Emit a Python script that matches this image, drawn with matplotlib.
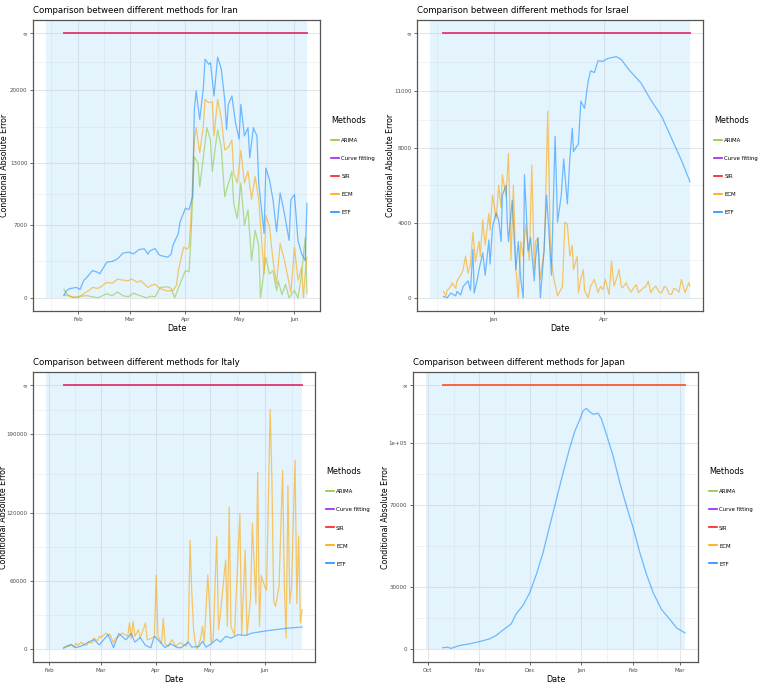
import matplotlib
matplotlib.use("Agg")
import matplotlib.pyplot as plt
import matplotlib.dates as mdates
import numpy as np
from matplotlib.lines import Line2D

plt.rcParams['font.family'] = ['Liberation Sans Narrow', 'DejaVu Sans', 'Liberation Sans']
plt.rcParams['font.stretch'] = 'condensed'

methods = ["ARIMA", "Curve fitting", "SIR", "ECM", "ETF"]
method_colors = ["#8DC63F", "#A020F0", "#FF1A1A", "#FFA500", "#1E90FF"]

# ---- Iran ----
iran_start = "2020-01-24"
iran_shade_start = "2020-01-14"
iran_inf = 25500
iran_at_inf = ["Curve fitting", "SIR"]
iran_yticks = [0, 7000, 13000, 20000]
iran_etf = [(0, 200), (1, 600), (3, 870), (7, 1000), (9, 800), (11, 1650), (13, 2000), (16, 2620),
            (19, 2450), (20, 2300), (24, 3430), (27, 3500), (30, 3750), (33, 4300), (36, 4400),
            (39, 4240), (42, 4650), (45, 4720), (47, 4200), (48, 4500), (51, 4750), (53, 4200),
            (54, 4080), (58, 3910), (60, 4200), (61, 5050), (64, 6200), (65, 7310), (68, 8640),
            (70, 8500), (72, 9740), (73, 18150), (74, 19930), (76, 17180), (78, 20200), (79, 23000),
            (81, 22500), (82, 22670), (84, 19450), (86, 23200), (88, 22100), (90, 19100), (91, 16200),
            (92, 18640), (94, 19450), (96, 16900), (98, 15300), (99, 18640), (101, 15600), (103, 16400),
            (104, 13500), (106, 16400), (108, 15600), (109, 11070), (112, 6210), (113, 12500),
            (115, 11400), (117, 9450), (119, 6360), (121, 10100), (123, 8480), (126, 5530), (127, 9450),
            (129, 9950), (131, 5500), (133, 4270), (135, 3590), (136, 9120)]
iran_ecm = [(0, 300), (2, 200), (5, 100), (8, 0), (11, 390), (14, 700), (16, 1000), (19, 900),
            (21, 1100), (24, 1490), (27, 1400), (30, 1800), (33, 1700), (36, 1650), (38, 1800),
            (41, 1500), (43, 1650), (47, 1000), (49, 1200), (51, 1300), (53, 1000), (55, 800),
            (58, 650), (61, 700), (63, 1200), (64, 2620), (67, 4880), (69, 4700), (70, 4900),
            (71, 7300), (73, 15240), (74, 16400), (76, 13980), (78, 16500), (79, 19130), (81, 18800),
            (83, 18900), (84, 15600), (86, 19130), (88, 17340), (90, 14250), (92, 14500), (94, 15200),
            (95, 12000), (97, 11070), (99, 14200), (101, 11070), (103, 12200), (105, 9500),
            (107, 11700), (109, 9450), (112, 2300), (113, 7960), (115, 6900), (117, 3590),
            (119, 1360), (121, 5240), (123, 3900), (125, 2300), (127, 490), (129, 4880), (131, 1700),
            (133, 2900), (134, 0), (135, 2300), (136, 3900)]
iran_arima = [(0, 800), (2, 300), (5, 0), (9, 150), (13, 200), (16, 100), (19, 0), (24, 390),
              (27, 200), (30, 550), (33, 200), (36, 100), (39, 450), (41, 300), (46, 0), (49, 150),
              (51, 100), (54, 1000), (58, 1060), (60, 900), (62, 0), (65, 1360), (68, 2620),
              (70, 2500), (71, 5530), (73, 13600), (75, 13000), (76, 10700), (78, 13500),
              (80, 16400), (82, 15200), (83, 12170), (86, 16200), (88, 14560), (90, 9740),
              (92, 11000), (94, 12170), (95, 9120), (97, 7630), (99, 11070), (101, 7000), (103, 8480),
              (105, 3590), (107, 6500), (109, 5000), (110, 0), (113, 3900), (115, 2300), (117, 2600),
              (119, 700), (120, 1600), (122, 300), (124, 1300), (126, 0), (129, 700), (131, 0),
              (133, 2300), (135, 5800), (136, 400)]

# ---- Israel ----
israel_start = "2020-11-21"
israel_shade_start = "2020-11-10"
israel_inf = 14100
israel_at_inf = ["Curve fitting", "SIR"]
israel_yticks = [0, 4000, 8000, 11000]
israel_etf = [(0, 70), (3, 0), (6, 250), (10, 100), (11, 340), (14, 150), (16, 600), (20, 900),
              (22, 400), (24, 2580), (25, 250), (27, 800), (29, 1500), (32, 2400), (34, 1200),
              (37, 3080), (38, 1800), (40, 3800), (43, 4520), (45, 4160), (47, 3000), (48, 5470),
              (51, 6000), (52, 4000), (53, 3000), (55, 4500), (56, 5200), (59, 1500), (61, 3000),
              (63, 1000), (65, 0), (66, 6560), (69, 2500), (71, 3200), (74, 900), (75, 2000),
              (77, 3200), (79, 0), (82, 2500), (84, 5470), (86, 3500), (88, 1200), (91, 8600),
              (93, 4030), (96, 5450), (98, 7400), (100, 5800), (101, 5000), (103, 7400), (105, 9030),
              (106, 7800), (110, 8200), (112, 10480), (115, 10100), (118, 11560), (120, 12100),
              (123, 12000), (126, 12630), (130, 12600), (134, 12760), (141, 12850), (145, 12700),
              (151, 12170), (161, 11450), (169, 10550), (178, 9660), (186, 8490), (194, 7330),
              (201, 6180)]
israel_ecm = [(0, 340), (2, 100), (3, 400), (6, 600), (7, 800), (10, 500), (11, 900), (14, 1200),
              (16, 1500), (18, 2220), (20, 1300), (22, 1800), (24, 3500), (26, 1900), (29, 3000),
              (30, 2200), (32, 4150), (34, 2800), (37, 4500), (38, 3600), (40, 5470), (43, 4200),
              (45, 6000), (47, 4800), (48, 6560), (51, 5400), (53, 7700), (55, 2000), (57, 6000),
              (59, 1600), (61, 0), (63, 3000), (65, 2200), (67, 3900), (70, 2000), (72, 7080),
              (74, 1500), (75, 3000), (77, 3200), (79, 1000), (82, 2500), (83, 4500), (85, 9950),
              (87, 3200), (88, 2000), (90, 1000), (93, 100), (97, 600), (99, 4030), (101, 3900),
              (103, 2220), (105, 2800), (106, 1500), (109, 2200), (110, 270), (112, 1000),
              (114, 1500), (115, 400), (118, 0), (120, 620), (123, 980), (126, 270), (128, 600),
              (130, 440), (132, 980), (135, 180), (137, 1950), (139, 620), (142, 1200), (143, 1510),
              (145, 600), (146, 530), (149, 800), (150, 620), (153, 300), (155, 530), (157, 700),
              (159, 270), (161, 400), (163, 530), (165, 600), (167, 890), (169, 270), (171, 500),
              (173, 620), (176, 300), (178, 270), (180, 600), (182, 530), (184, 200), (186, 180),
              (188, 500), (190, 440), (192, 300), (194, 980), (197, 270), (200, 800), (201, 620)]

# ---- Italy ----
italy_start = "2020-02-09"
italy_shade_start = "2020-01-30"
italy_inf = 233500
italy_at_inf = ["Curve fitting", "SIR"]
italy_yticks = [0, 60000, 120000, 190000]
italy_ecm = [(0, 1000), (2, 3000), (3, 2000), (4, 4000), (6, 1500), (7, 5000), (8, 3000), (10, 6000),
             (11, 4000), (13, 3000), (14, 6000), (16, 5000), (17, 9600), (19, 7000), (20, 11000),
             (21, 10000), (24, 14000), (25, 12000), (26, 13000), (28, 5300), (29, 9000), (31, 11100),
             (33, 14000), (35, 12000), (36, 11100), (37, 22900), (38, 9000), (39, 24400), (40, 11100),
             (42, 17000), (43, 9600), (44, 14000), (46, 22900), (47, 8000), (49, 9000), (51, 11100),
             (52, 65000), (53, 11100), (55, 5000), (56, 27000), (57, 4000), (59, 2300), (60, 6000),
             (61, 8000), (63, 2300), (65, 5000), (66, 5300), (68, 3000), (69, 2300), (70, 8000),
             (71, 96300), (72, 50000), (73, 17000), (74, 5000), (75, 0), (77, 9000), (78, 20000),
             (79, 6000), (81, 65500), (83, 5300), (84, 8000), (86, 99200), (87, 17000), (88, 30000),
             (89, 46400), (91, 78700), (92, 20000), (93, 125600), (94, 20000), (96, 12000),
             (97, 50000), (99, 119800), (100, 12000), (102, 87500), (103, 12000), (105, 45000),
             (106, 111000), (107, 75800), (108, 40000), (109, 156500), (110, 20000), (111, 65000),
             (113, 55000), (114, 52000), (115, 131500), (116, 212000), (117, 150000), (118, 42000),
             (119, 37500), (121, 55000), (123, 158000), (124, 55000), (125, 9700), (126, 144600),
             (127, 40000), (128, 55000), (130, 167000), (131, 40000), (132, 100000), (133, 22900),
             (134, 34600)]
italy_etf = [(0, 600), (4, 3800), (7, 1000), (10, 2500), (14, 6000), (17, 8200), (20, 3500),
             (23, 9000), (25, 12600), (28, 1000), (31, 13500), (35, 8000), (38, 13500), (40, 6000),
             (43, 10000), (46, 3000), (49, 1000), (51, 11100), (53, 8000), (57, 1000), (60, 4500),
             (64, 1000), (66, 1000), (70, 6000), (72, 1500), (76, 2000), (78, 6700), (80, 1500),
             (83, 4500), (86, 8500), (88, 6000), (91, 11000), (94, 9500), (98, 12500), (102, 11800),
             (106, 14000), (112, 15500), (118, 16800), (126, 18300), (134, 19300)]

# ---- Japan ----
japan_start = "2020-10-10"
japan_shade_start = "2020-09-30"
japan_inf = 127900
japan_at_inf = ["ECM", "SIR"]
japan_yticks = [0, 30000, 70000, 100000]
japan_etf = [(0, 500), (3, 800), (5, 200), (10, 1600), (16, 2400), (22, 3500), (28, 4800),
             (32, 6500), (37, 9700), (41, 12100), (44, 17000), (48, 21000), (52, 27100), (56, 36000),
             (60, 46500), (64, 59500), (68, 72400), (72, 85300), (76, 97400), (79, 105500),
             (82, 111100), (84, 115500), (86, 116600), (88, 115000), (90, 113800), (93, 114300),
             (95, 111400), (98, 104000), (102, 93400), (106, 80500), (110, 69100), (114, 58600),
             (118, 46500), (122, 36000), (126, 27100), (131, 19000), (136, 14200), (140, 10100),
             (145, 7700)]

panels = [
    ("Iran", iran_start, iran_shade_start, iran_inf, iran_at_inf, iran_yticks,
     {"ARIMA": iran_arima, "ECM": iran_ecm, "ETF": iran_etf},
     ["2020-01-01", "2020-02-01", "2020-03-01", "2020-04-01", "2020-05-01", "2020-06-01", "2020-07-01"]),
    ("Israel", israel_start, israel_shade_start, israel_inf, israel_at_inf, israel_yticks,
     {"ECM": israel_ecm, "ETF": israel_etf},
     ["2020-10-01", "2021-01-01", "2021-04-01", "2021-07-01"]),
    ("Italy", italy_start, italy_shade_start, italy_inf, italy_at_inf, italy_yticks,
     {"ECM": italy_ecm, "ETF": italy_etf},
     ["2020-01-01", "2020-02-01", "2020-03-01", "2020-04-01", "2020-05-01", "2020-06-01", "2020-07-01"]),
    ("Japan", japan_start, japan_shade_start, japan_inf, japan_at_inf, japan_yticks,
     {"ETF": japan_etf},
     ["2020-09-01", "2020-10-01", "2020-11-01", "2020-12-01", "2021-01-01", "2021-02-01",
      "2021-03-01", "2021-04-01"]),
]

# panel boxes in pixels: left, bottom, width, height ; and y-label centre x
W, H = 759, 692
axes_px = [(33, 381, 287, 291), (417, 381, 286, 291), (33, 30, 282, 290), (413, 30, 285, 290)]
ylabel_px = [9, 395, 8, 390]

fig = plt.figure(figsize=(7.59, 6.92), dpi=100)
color_of = dict(zip(methods, method_colors))


def to_dates(start, days):
    return np.datetime64(start) + np.array(days).astype("timedelta64[D]")


for (l, b, w, h), ylx, (country, start, shade_start, inf_level, at_inf, yticks, series, months) in zip(
        axes_px, ylabel_px, panels):
    ax = fig.add_axes([l / W, b / H, w / W, h / H])
    last_day = max(p[0] for s in series.values() for p in s)
    t0 = np.datetime64(start)
    t_end = t0 + np.timedelta64(last_day, "D")
    t_shade = np.datetime64(shade_start)

    # shaded period
    ax.fill_between([t_shade, t_end], 0, inf_level * 2, color="#87CEFA", alpha=0.22, lw=0, zorder=1)

    # methods that blow up drawn at the "infinity" level
    for m in at_inf:
        ax.plot([t0, t_end], [inf_level, inf_level], color=color_of[m], alpha=0.6, lw=1.3, zorder=3)

    for m in methods:
        if m in series:
            days, vals = zip(*series[m])
            ax.plot(to_dates(start, days), vals, color=color_of[m], alpha=0.6, lw=0.9, zorder=2)

    major_x = mdates.date2num(np.array(months, dtype="datetime64[D]"))
    ax.set_xticks(major_x)
    ax.set_xticks((major_x[:-1] + major_x[1:]) / 2, minor=True)
    ax.xaxis.set_major_formatter(mdates.DateFormatter("%b"))

    yt = list(yticks) + [inf_level]
    ylab = ["1e+05" if v == 100000 else str(v) for v in yticks] + ["\u221e"]
    ax.set_yticks(yt)
    ax.set_yticklabels(ylab)
    yt = np.array(yt)
    ax.set_yticks((yt[:-1] + yt[1:]) / 2, minor=True)

    # ggplot-like expansion (after ticks so they do not widen the view)
    x0, x1 = mdates.date2num(t_shade), mdates.date2num(t_end)
    pad = 0.05 * (x1 - x0)
    ax.set_xlim(x0 - pad, x1 + pad)
    ax.set_ylim(-0.05 * inf_level, 1.05 * inf_level)

    ax.set_axisbelow(True)
    ax.grid(which="major", color="#E6E6E6", lw=0.8)
    ax.grid(which="minor", color="#EFEFEF", lw=0.5)
    ax.tick_params(which="major", labelsize=4.4, colors="#4D4D4D", length=2.5, width=0.6, pad=1.5)
    ax.tick_params(which="minor", length=0)
    for sp in ax.spines.values():
        sp.set_color("#555555")
        sp.set_linewidth(0.9)

    ax.set_title(f"Comparison between different methods for {country}", loc="left",
                 fontsize=6.8, pad=5)
    ax.set_xlabel("Date", fontsize=6.5, labelpad=2)
    ax.set_ylabel("Conditional Absolute Error", fontsize=6.3)
    ax.yaxis.set_label_coords((ylx - l) / w, 0.5)

    handles = [Line2D([0], [0], color=c, lw=1.2) for c in method_colors]
    ax.legend(handles, methods, title="Methods", loc="center left",
              bbox_to_anchor=(1.028, 0.5), frameon=False, fontsize=4.3,
              title_fontsize=6.5, handlelength=1.3, handletextpad=0.4,
              labelspacing=2.15, borderpad=0, alignment="left")

fig.savefig("out.png", dpi=100)
